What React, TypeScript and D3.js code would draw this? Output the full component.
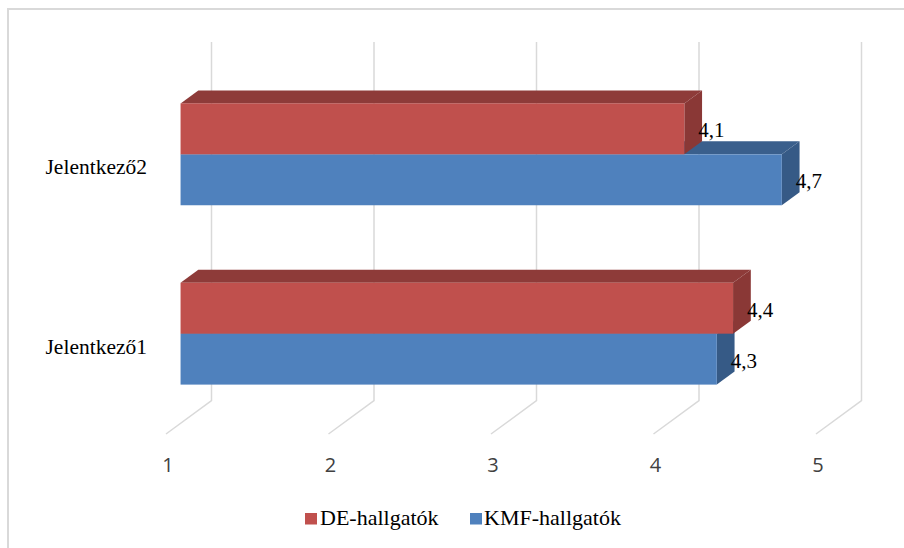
import React from "react";
import * as d3 from "d3";

const categories = ["Jelentkező2", "Jelentkező1"];
const seriesNames = ["DE-hallgatók", "KMF-hallgatók"];
const deValues = [4.1, 4.4];
const kmfValues = [4.7, 4.3];
const xTicks = [1, 2, 3, 4, 5];
const seriesColors = ["#C0504D", "#4F81BD"];
const seriesDark = ["#8E3B39", "#3A5F8C"];
const seriesSide = ["#8A3836", "#365A86"];

const W = 904;
const H = 548;
const SERIF = "Liberation Serif, Times New Roman, DejaVu Serif, serif";

export default function App() {
  const x = d3.scaleLinear().domain([1, 5]).range([166, 816]);
  const depth = { dx: 45.5, dy: -33.3 };
  const backTop = 42;
  const floorFront = 434;
  const y = d3
    .scaleBand<string>()
    .domain(categories)
    .range([backTop - depth.dy, floorFront])
    .paddingInner(0.432)
    .paddingOuter(0.216);
  const sub = d3.scaleBand<string>().domain(seriesNames).range([0, y.bandwidth()]);
  const t0 = 0.32;
  const td = 0.39;
  const ox = depth.dx * t0;
  const oy = depth.dy * t0;
  const bdx = depth.dx * td;
  const bdy = depth.dy * td;

  const values = [deValues, kmfValues];
  const fmt = (v: number) => String(v).replace(".", ",");

  const bars: React.ReactNode[] = [];
  const labels: React.ReactNode[] = [];
  categories.forEach((cat, ci) => {
    [1, 0].forEach((si) => {
      const v = values[si][ci];
      const x0 = x(1) + ox;
      const x1 = x(v) + ox;
      const y0 = (y(cat) as number) + (sub(seriesNames[si]) as number) + oy;
      const y1 = y0 + sub.bandwidth();
      const top = `${x0},${y0} ${x1},${y0} ${x1 + bdx},${y0 + bdy} ${x0 + bdx},${y0 + bdy}`;
      const side = `${x1},${y0} ${x1},${y1} ${x1 + bdx},${y1 + bdy} ${x1 + bdx},${y0 + bdy}`;
      bars.push(
        <g key={`${cat}-${si}`}>
          <polygon points={top} fill={seriesDark[si]} />
          <polygon points={side} fill={seriesSide[si]} />
          <rect x={x0} y={y0} width={x1 - x0} height={y1 - y0} fill={seriesColors[si]} />
        </g>
      );
      labels.push(
        <text
          key={`l-${cat}-${si}`}
          x={x1 + 14}
          y={(y0 + y1) / 2 + 8.5}
          style={{ fontFamily: SERIF, fontSize: "21px" }}
          fill="#000"
        >
          {fmt(v)}
        </text>
      );
    });
  });

  return (
    <svg
      width={W}
      height={H}
      style={{ position: "absolute", left: 0, top: 0, background: "#fff" }}
    >
      <rect x={0} y={0} width={W} height={H} fill="#fff" />
      <line x1={7} y1={9} x2={W} y2={9} stroke="#d9d9d9" strokeWidth={2} />
      <line x1={8} y1={9} x2={8} y2={H} stroke="#d9d9d9" strokeWidth={2} />

      {xTicks.map((t) => (
        <polyline
          key={`g${t}`}
          points={`${x(t) + depth.dx},${backTop} ${x(t) + depth.dx},${floorFront + depth.dy} ${x(t)},${floorFront}`}
          fill="none"
          stroke="#d9d9d9"
          strokeWidth={1.5}
        />
      ))}

      {bars}
      {labels}

      {categories.map((c) => (
        <text
          key={c}
          x={147}
          y={(y(c) as number) + y.bandwidth() / 2 + 9.5}
          textAnchor="end"
          style={{ fontFamily: SERIF, fontSize: "21.5px" }}
          fill="#000"
        >
          {c}
        </text>
      ))}

      {xTicks.map((t) => (
        <text
          key={`t${t}`}
          x={x(t) + 2}
          y={472}
          textAnchor="middle"
          style={{ fontFamily: "Open Sans, sans-serif", fontSize: "20px" }}
          fill="#404040"
        >
          {t}
        </text>
      ))}

      <g>
        <rect x={305} y={513} width={12} height={11.5} fill={seriesColors[0]} />
        <text x={320} y={525} style={{ fontFamily: SERIF, fontSize: "22px" }} fill="#000">
          {seriesNames[0]}
        </text>
        <rect x={470} y={513} width={12} height={11.5} fill={seriesColors[1]} />
        <text x={484} y={525} style={{ fontFamily: SERIF, fontSize: "22px" }} fill="#000">
          {seriesNames[1]}
        </text>
      </g>
    </svg>
  );
}
